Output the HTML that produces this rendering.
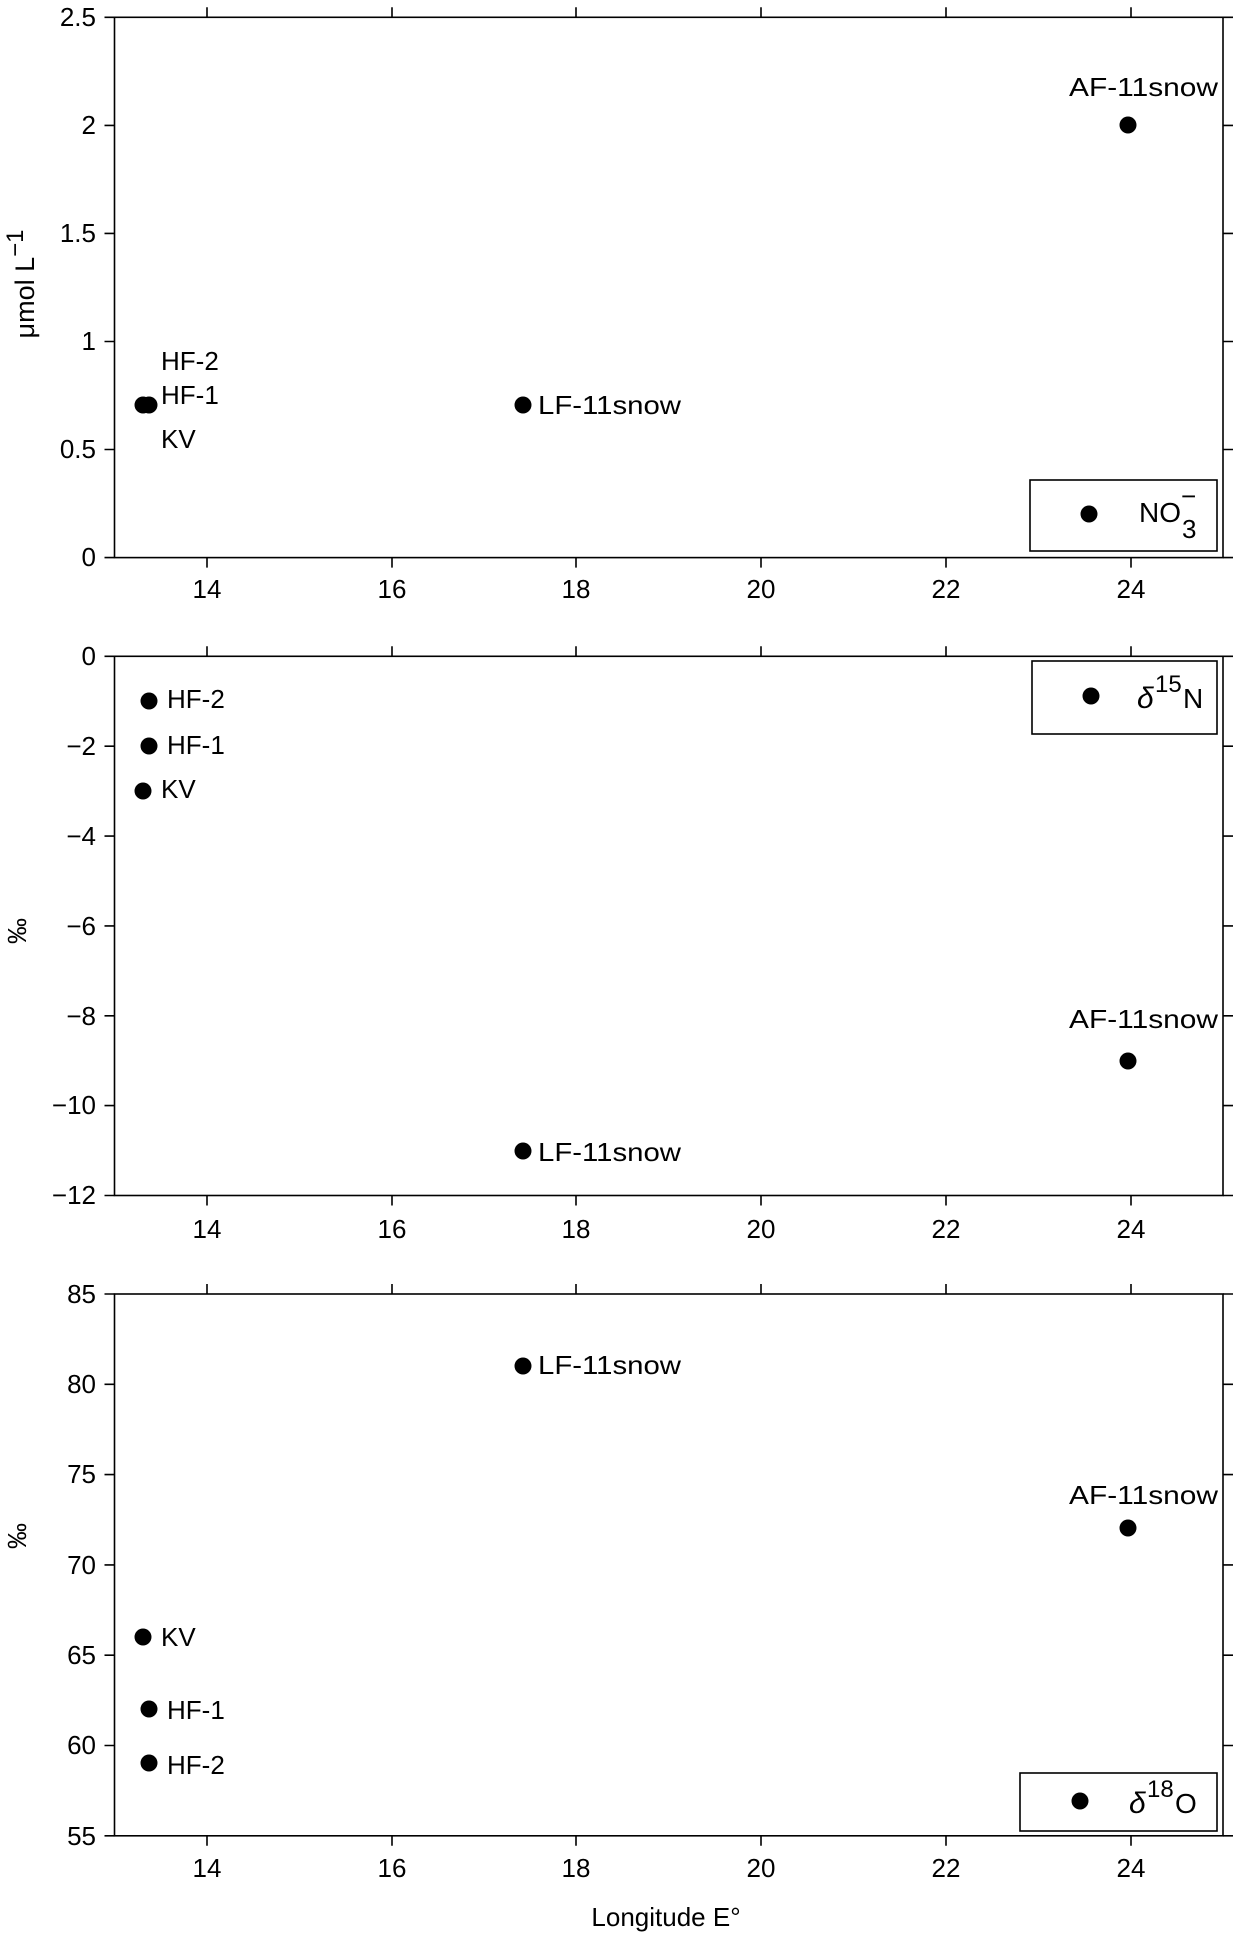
<!DOCTYPE html>
<html><head><meta charset="utf-8"><style>
html,body{margin:0;padding:0;background:#fff}
svg{display:block}
text{font-family:"Liberation Sans",sans-serif;fill:#000}
</style></head><body>
<svg width="1244" height="1934" viewBox="0 0 1244 1934" xmlns="http://www.w3.org/2000/svg">
<g stroke="#000" stroke-width="1.6" fill="none">
<rect x="114.5" y="17.3" width="1108.5" height="540.3"/>
<rect x="114.5" y="656.3" width="1108.5" height="539.2"/>
<rect x="114.5" y="1294" width="1108.5" height="541.8"/>
<path d="M207 17.3v-10M392 17.3v-10M576 17.3v-10M761 17.3v-10M946 17.3v-10M1131 17.3v-10
M207 557.6v10M392 557.6v10M576 557.6v10M761 557.6v10M946 557.6v10M1131 557.6v10
M207 656.3v-10M392 656.3v-10M576 656.3v-10M761 656.3v-10M946 656.3v-10M1131 656.3v-10
M207 1195.5v10M392 1195.5v10M576 1195.5v10M761 1195.5v10M946 1195.5v10M1131 1195.5v10
M207 1294v-10M392 1294v-10M576 1294v-10M761 1294v-10M946 1294v-10M1131 1294v-10
M207 1835.8v10M392 1835.8v10M576 1835.8v10M761 1835.8v10M946 1835.8v10M1131 1835.8v10"/>
<path d="M114.5 17.3h-10M114.5 125.4h-10M114.5 233.4h-10M114.5 341.5h-10M114.5 449.5h-10M114.5 557.6h-10
M1223 17.3h10M1223 125.4h10M1223 233.4h10M1223 341.5h10M1223 449.5h10M1223 557.6h10"/>
<path d="M114.5 656.3h-10M114.5 746.2h-10M114.5 836.1h-10M114.5 925.9h-10M114.5 1015.8h-10M114.5 1105.6h-10M114.5 1195.5h-10
M1223 656.3h10M1223 746.2h10M1223 836.1h10M1223 925.9h10M1223 1015.8h10M1223 1105.6h10M1223 1195.5h10"/>
<path d="M114.5 1294h-10M114.5 1384.3h-10M114.5 1474.6h-10M114.5 1564.9h-10M114.5 1655.2h-10M114.5 1745.5h-10M114.5 1835.8h-10
M1223 1294h10M1223 1384.3h10M1223 1474.6h10M1223 1564.9h10M1223 1655.2h10M1223 1745.5h10M1223 1835.8h10"/>
<rect x="1030" y="480" width="187" height="71"/>
<rect x="1032" y="661" width="185" height="73"/>
<rect x="1020" y="1773" width="197" height="58"/>
</g>
<g font-size="26" text-anchor="end">
<text x="96" y="26">2.5</text><text x="96" y="134">2</text><text x="96" y="242">1.5</text><text x="96" y="350">1</text><text x="96" y="458">0.5</text><text x="96" y="566">0</text>
<text x="96" y="665">0</text><text x="96" y="755">−2</text><text x="96" y="845">−4</text><text x="96" y="935">−6</text><text x="96" y="1025">−8</text><text x="96" y="1114">−10</text><text x="96" y="1204">−12</text>
<text x="96" y="1303">85</text><text x="96" y="1393">80</text><text x="96" y="1483">75</text><text x="96" y="1574">70</text><text x="96" y="1664">65</text><text x="96" y="1754">60</text><text x="96" y="1845">55</text>
</g>
<g font-size="26" text-anchor="middle">
<text x="207" y="598">14</text><text x="392" y="598">16</text><text x="576" y="598">18</text><text x="761" y="598">20</text><text x="946" y="598">22</text><text x="1131" y="598">24</text>
<text x="207" y="1238">14</text><text x="392" y="1238">16</text><text x="576" y="1238">18</text><text x="761" y="1238">20</text><text x="946" y="1238">22</text><text x="1131" y="1238">24</text>
<text x="207" y="1877">14</text><text x="392" y="1877">16</text><text x="576" y="1877">18</text><text x="761" y="1877">20</text><text x="946" y="1877">22</text><text x="1131" y="1877">24</text>
<text x="666" y="1926">Longitude E°</text>
<text transform="translate(34,284) rotate(-90)" font-size="27">μmol L<tspan dy="-11" font-size="24">−1</tspan></text>
<text transform="translate(26,931) rotate(-90)">‰</text>
<text transform="translate(26,1536) rotate(-90)">‰</text>
</g>
<g fill="#000">
<circle cx="143" cy="405" r="8.5"/><circle cx="149" cy="405" r="8.5"/><circle cx="523" cy="405" r="8.5"/><circle cx="1128" cy="125" r="8.5"/>
<circle cx="149" cy="701" r="8.5"/><circle cx="149" cy="746" r="8.5"/><circle cx="143" cy="791" r="8.5"/><circle cx="1128" cy="1061" r="8.5"/><circle cx="523" cy="1151" r="8.5"/>
<circle cx="523" cy="1366" r="8.5"/><circle cx="1128" cy="1528" r="8.5"/><circle cx="143" cy="1637" r="8.5"/><circle cx="149" cy="1709" r="8.5"/><circle cx="149" cy="1763" r="8.5"/>
<circle cx="1089" cy="514" r="8.5"/><circle cx="1091" cy="696" r="8.5"/><circle cx="1080" cy="1801" r="8.5"/>
</g>
<g font-size="26">
<text x="1069" y="96" textLength="149" lengthAdjust="spacingAndGlyphs">AF-11snow</text>
<text x="161" y="370">HF-2</text><text x="161" y="404">HF-1</text><text x="161" y="448">KV</text>
<text x="538" y="414" textLength="143" lengthAdjust="spacingAndGlyphs">LF-11snow</text>
<text x="167" y="708">HF-2</text><text x="167" y="754">HF-1</text><text x="161" y="798">KV</text>
<text x="1069" y="1028" textLength="149" lengthAdjust="spacingAndGlyphs">AF-11snow</text>
<text x="538" y="1161" textLength="143" lengthAdjust="spacingAndGlyphs">LF-11snow</text>
<text x="538" y="1374" textLength="143" lengthAdjust="spacingAndGlyphs">LF-11snow</text>
<text x="1069" y="1504" textLength="149" lengthAdjust="spacingAndGlyphs">AF-11snow</text>
<text x="161" y="1646">KV</text><text x="167" y="1719">HF-1</text><text x="167" y="1774">HF-2</text>
<text x="1139" y="522" font-size="28">NO</text><text x="1182" y="538" font-size="26">3</text><text x="1181" y="505" font-size="26">−</text>
<text x="1137" y="708" font-size="30" font-style="italic" font-family="Liberation Serif,serif">δ</text><text x="1155" y="692" font-size="24">15</text><text x="1183" y="708" font-size="28">N</text>
<text x="1129" y="1813" font-size="30" font-style="italic" font-family="Liberation Serif,serif">δ</text><text x="1147" y="1797" font-size="24">18</text><text x="1175" y="1813" font-size="28">O</text>
</g>
</svg>
</body></html>
